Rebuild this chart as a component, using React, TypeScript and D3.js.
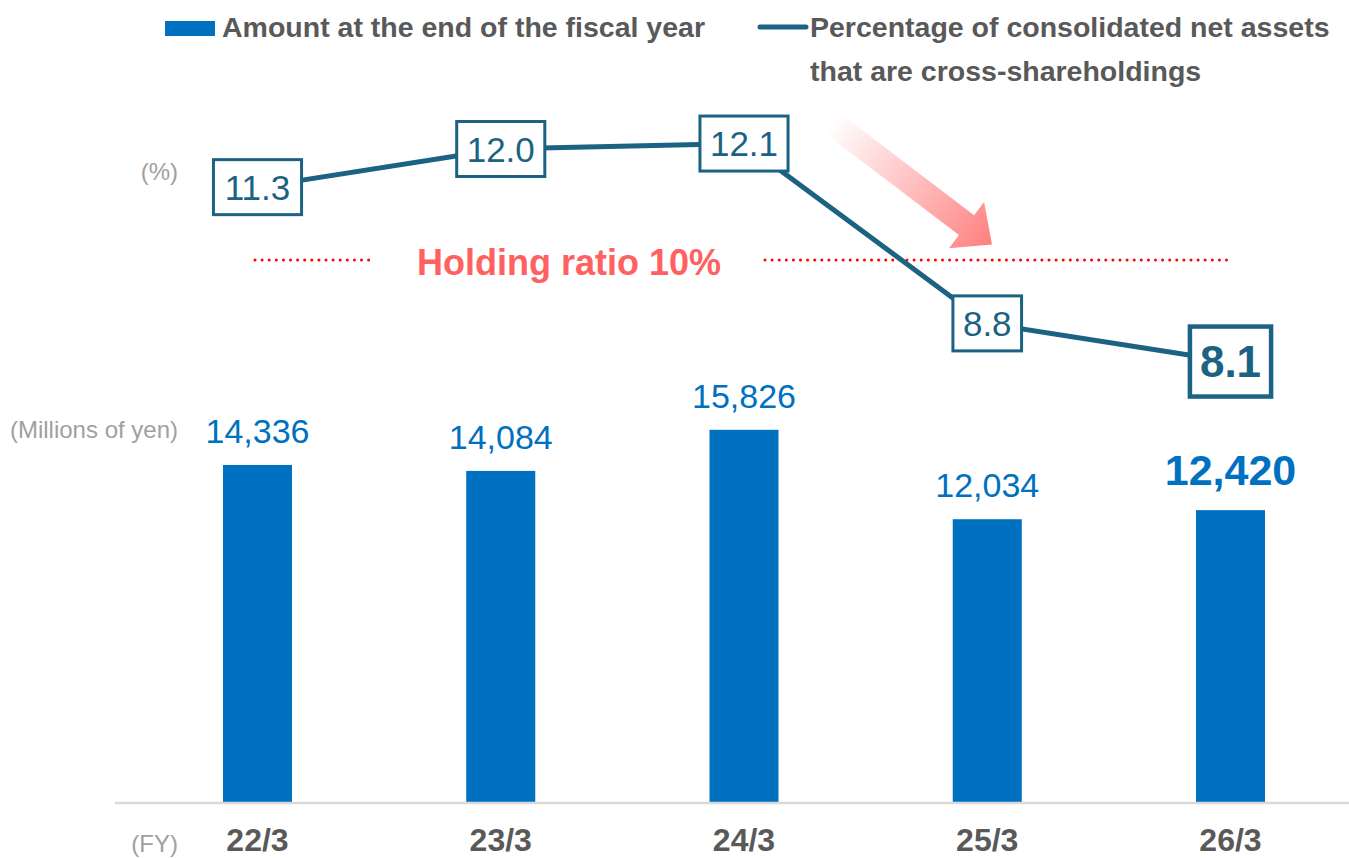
import React from "react";
import * as d3 from "d3";

const categories = ["22/3", "23/3", "24/3", "25/3", "26/3"];
const amounts = [14336, 14084, 15826, 12034, 12420];
const ratios = [11.3, 12.0, 12.1, 8.8, 8.1];
const ratioLabels = ["11.3", "12.0", "12.1", "8.8", "8.1"];
const threshold = 10;
const legendBar = "Amount at the end of the fiscal year";
const legendLine = ["Percentage of consolidated net assets", "that are cross-shareholdings"];

const W = 1349;
const H = 858;
const BLUE = "#0070C0";
const TEAL = "#1B6283";
const GRAY = "#595959";
const LIGHT = "#a0a0a0";
const FONT = "'Liberation Sans', Arial, sans-serif";

function estWidth(s: string, fs: number) {
  let w = 0;
  for (const c of s) w += c === "." || c === "," ? 0.278 : 0.556;
  return w * fs;
}

export default function App() {
  const x = d3.scalePoint<string>().domain(categories).range([257.5, 1230.5]);
  const yBar = d3.scaleLinear().domain([0, 20000]).range([803, 331.4]);
  const yPct = d3.scaleLinear().domain([0, 15]).range([803, -14.5]);
  const barW = 69;
  const last = categories.length - 1;

  const line = d3
    .line<number>()
    .x((_, i) => x(categories[i])!)
    .y((d) => yPct(d));

  const yT = yPct(threshold) + 2;

  // arrow geometry (decoration)
  const tail: [number, number] = [832.5, 123.3];
  const tip: [number, number] = [992, 244.5];
  const dx = tip[0] - tail[0];
  const dy = tip[1] - tail[1];
  const L = Math.sqrt(dx * dx + dy * dy);
  const ang = (Math.atan2(dy, dx) * 180) / Math.PI;
  const sh = 12.5;
  const hh = 29;
  const hl = 32;

  return (
    <svg
      width={W}
      height={H}
      style={{ position: "absolute", left: 0, top: 0, background: "#fff" }}
      fontFamily={FONT}
    >
      <defs>
        <linearGradient id="arrowGrad" x1="0" y1="0" x2="1" y2="0">
          <stop offset="0" stopColor="#ff8080" stopOpacity={0} />
          <stop offset="1" stopColor="#ff8080" stopOpacity={1} />
        </linearGradient>
      </defs>

      {/* Legend */}
      <rect x={165} y={21} width={50} height={15} fill={BLUE} />
      <text x={222} y={37} fontSize={28.5} fontWeight="bold" fill={GRAY}>
        {legendBar}
      </text>
      <line x1={760} x2={806} y1={27} y2={27} stroke={TEAL} strokeWidth={5} strokeLinecap="round" />
      <text x={810} y={37} fontSize={28.5} fontWeight="bold" fill={GRAY}>
        {legendLine[0]}
      </text>
      <text x={810} y={81} fontSize={28.5} fontWeight="bold" fill={GRAY}>
        {legendLine[1]}
      </text>

      {/* Unit labels */}
      <text x={178} y={180} fontSize={24} fill={LIGHT} textAnchor="end">
        (%)
      </text>
      <text x={178} y={438} fontSize={24} fill={LIGHT} textAnchor="end">
        (Millions of yen)
      </text>
      <text x={178} y={852} fontSize={24} fill={LIGHT} textAnchor="end">
        (FY)
      </text>

      {/* Bars */}
      {amounts.map((v, i) => (
        <rect
          key={categories[i]}
          x={x(categories[i])! - barW / 2}
          y={yBar(v)}
          width={barW}
          height={yBar(0) - yBar(v)}
          fill={BLUE}
        />
      ))}
      {amounts.map((v, i) => (
        <text
          key={"bl" + i}
          x={x(categories[i])!}
          y={yBar(v) - (i === last ? 25 : 22)}
          fontSize={i === last ? 43 : 34}
          fontWeight={i === last ? "bold" : "normal"}
          fill={BLUE}
          textAnchor="middle"
        >
          {d3.format(",")(v)}
        </text>
      ))}

      {/* Axis line */}
      <line x1={115} x2={W} y1={yBar(0)} y2={yBar(0)} stroke="#d9d9d9" strokeWidth={2.5} />
      {categories.map((c) => (
        <text
          key={"ax" + c}
          x={x(c)!}
          y={851}
          fontSize={32}
          fontWeight="bold"
          fill={GRAY}
          textAnchor="middle"
        >
          {c}
        </text>
      ))}

      {/* Threshold dotted line */}
      <line x1={255} x2={372} y1={yT} y2={yT} stroke="#ff0000" strokeWidth={3} strokeDasharray="0 7.1" strokeLinecap="round" />
      <line x1={765} x2={1227} y1={yT} y2={yT} stroke="#ff0000" strokeWidth={3} strokeDasharray="0 7.1" strokeLinecap="round" />
      <text x={569} y={yT + 15} fontSize={36} fontWeight="bold" fill="#ff6161" textAnchor="middle">
        Holding ratio 10%
      </text>

      {/* Gradient arrow */}
      <g transform={`translate(${tail[0]},${tail[1]}) rotate(${ang})`}>
        <polygon
          points={`0,${-sh} ${L - hl},${-sh} ${L - hl},${-hh} ${L},0 ${L - hl},${hh} ${L - hl},${sh} 0,${sh}`}
          fill="url(#arrowGrad)"
        />
      </g>

      {/* Ratio line */}
      <path d={line(ratios)!} fill="none" stroke={TEAL} strokeWidth={5} strokeLinejoin="round" />
      {ratios.map((v, i) => {
        const hl2 = i === last;
        const fs = hl2 ? 44 : 35;
        const bw = estWidth(ratioLabels[i], fs) + 20;
        const bh = hl2 ? 70 : 55;
        const cx = x(categories[i])!;
        const cy = yPct(v);
        return (
          <g key={"r" + i}>
            <rect
              x={cx - bw / 2}
              y={cy - bh / 2}
              width={bw}
              height={bh}
              fill="#fff"
              stroke={TEAL}
              strokeWidth={hl2 ? 4.5 : 3}
            />
            <text
              x={cx}
              y={cy + fs * 0.36}
              fontSize={fs}
              fontWeight={hl2 ? "bold" : "normal"}
              fill={TEAL}
              textAnchor="middle"
            >
              {ratioLabels[i]}
            </text>
          </g>
        );
      })}
    </svg>
  );
}
